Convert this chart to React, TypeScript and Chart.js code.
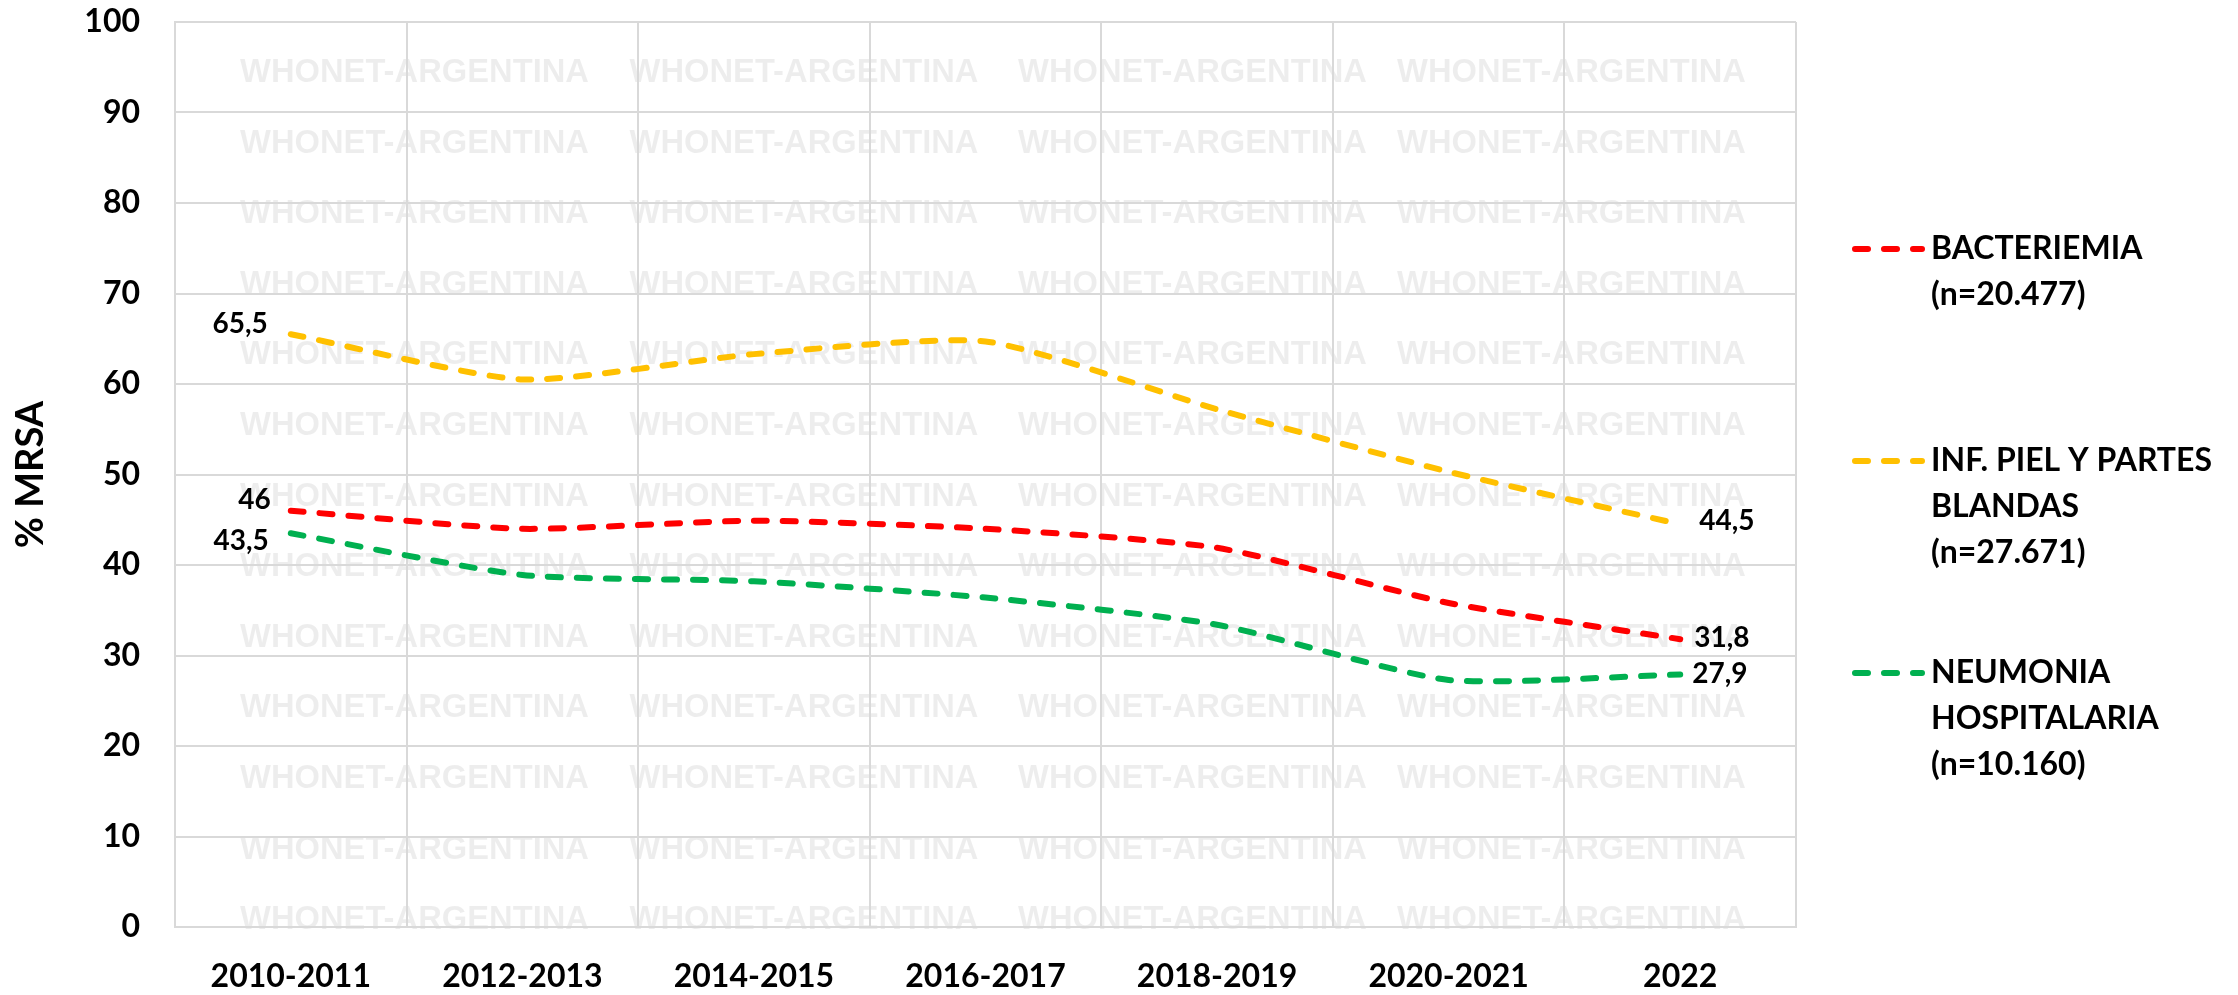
import React, { useEffect, useRef } from "react";
import { Chart, registerables } from "chart.js";

Chart.register(...registerables);

// ---------- data ----------
const categories = ["2010-2011", "2012-2013", "2014-2015", "2016-2017", "2018-2019", "2020-2021", "2022"];
const bacteriemia = [46, 44.0, 44.9, 44.0, 41.9, 35.8, 31.8];
const pielPartesBlandas = [65.5, 60.5, 63.3, 64.7, 57.2, 50.3, 44.5];
const neumoniaHospitalaria = [43.5, 38.9, 38.2, 36.4, 33.4, 27.3, 27.9];
const seriesLegendLines = [
  ["BACTERIEMIA", "(n=20.477)"],
  ["INF. PIEL Y PARTES", "BLANDAS", "(n=27.671)"],
  ["NEUMONIA", "HOSPITALARIA", "(n=10.160)"],
];
const seriesColors = ["#FF0000", "#FFC000", "#00B050"];
const yMin = 0;
const yMax = 100;
const yStep = 10;
const yAxisTitle = "% MRSA";
const watermarkText = "WHONET-ARGENTINA";

const FONT = "Lato";
const DASH = [13, 16];
const LINE_W = 6;

const fmt = (v: number) => String(v).replace(".", ",");

const watermarkPlugin = {
  id: "watermark",
  beforeDraw(chart: any) {
    const ctx = chart.ctx;
    ctx.save();
    ctx.font = 'bold 33px "Liberation Sans"';
    ctx.fillStyle = "rgba(0,0,0,0.07)";
    ctx.textBaseline = "middle";
    ctx.textAlign = "left";
    const cols = [240, 629.5, 1018, 1397];
    for (let r = 0; r < 13; r++) {
      const y = 73 + r * 70.6;
      for (const x of cols) ctx.fillText(watermarkText, x, y, 349);
    }
    ctx.restore();
  },
};

const endLabelsPlugin = {
  id: "endLabels",
  afterDatasetsDraw(chart: any) {
    const ctx = chart.ctx;
    const firstDx = [-20, -23, -22];
    const firstDy = [-11, -10, 8];
    const lastDx = [14, 19, 12];
    const lastDy = [-1, -3, -1];
    ctx.save();
    ctx.font = `bold 28px ${FONT}`;
    ctx.fillStyle = "#000";
    ctx.textBaseline = "middle";
    chart.data.datasets.forEach((ds: any, i: number) => {
      const meta = chart.getDatasetMeta(i);
      const n = meta.data.length;
      const p0 = meta.data[0];
      const p1 = meta.data[n - 1];
      ctx.textAlign = "right";
      ctx.fillText(fmt(ds.data[0]), p0.x + firstDx[i], p0.y + firstDy[i]);
      ctx.textAlign = "left";
      ctx.fillText(fmt(ds.data[n - 1]), p1.x + lastDx[i], p1.y + lastDy[i]);
    });
    ctx.restore();
  },
};

const legendPlugin = {
  id: "customLegend",
  afterDraw(chart: any) {
    const ctx = chart.ctx;
    const x0 = 1852;
    const x1 = 1925;
    const tx = 1931;
    const y0 = 249;
    const step = 212;
    const lh = 46;
    ctx.save();
    chart.data.datasets.forEach((ds: any, i: number) => {
      const y = y0 + i * step;
      ctx.beginPath();
      ctx.setLineDash(DASH);
      ctx.lineCap = "round";
      ctx.lineWidth = LINE_W;
      ctx.strokeStyle = ds.borderColor;
      ctx.moveTo(x0 + LINE_W / 2, y);
      ctx.lineTo(x1 - LINE_W / 2, y);
      ctx.stroke();
      ctx.setLineDash([]);
      ctx.font = `bold 32px ${FONT}`;
      ctx.fillStyle = "#000";
      ctx.textAlign = "left";
      ctx.textBaseline = "middle";
      seriesLegendLines[i].forEach((line, k) => {
        ctx.fillText(line, tx, y + k * lh);
      });
    });
    ctx.restore();
  },
};

export default function App() {
  const ref = useRef<HTMLCanvasElement | null>(null);

  useEffect(() => {
    let chart: Chart | null = null;
    let cancelled = false;
    const make = () => {
      if (cancelled || !ref.current) return;
      const mk = (label: string, data: number[], color: string) => ({
        label,
        data,
        borderColor: color,
        backgroundColor: color,
        borderWidth: LINE_W,
        borderDash: DASH,
        borderCapStyle: "round" as const,
        pointRadius: 0,
        tension: 0.2,
        fill: false,
      });
      chart = new Chart(ref.current, {
        type: "line",
        data: {
          labels: categories,
          datasets: [
            mk(seriesLegendLines[0].join(" "), bacteriemia, seriesColors[0]),
            mk(seriesLegendLines[1].join(" "), pielPartesBlandas, seriesColors[1]),
            mk(seriesLegendLines[2].join(" "), neumoniaHospitalaria, seriesColors[2]),
          ],
        },
        options: {
          animation: false,
          responsive: false,
          devicePixelRatio: 1,
          layout: { padding: { top: 22, right: 442, left: 0, bottom: 0 } },
          plugins: {
            legend: { display: false },
            title: { display: false },
            tooltip: { enabled: false },
          },
          scales: {
            x: {
              offset: true,
              grid: { offset: true, color: "#d9d9d9", lineWidth: 2, drawTicks: false },
              border: { display: true, color: "#d9d9d9", width: 2 },
              ticks: {
                color: "#000",
                font: { family: FONT, size: 32, weight: "bold" },
                padding: 30,
                maxRotation: 0,
                autoSkip: false,
              },
              afterFit: (s: any) => {
                s.height = 68;
                s.paddingLeft = 0;
                s.paddingRight = 0;
              },
            },
            y: {
              min: yMin,
              max: yMax,
              grid: { color: "#d9d9d9", lineWidth: 2, drawTicks: false },
              border: { display: true, color: "#d9d9d9", width: 2 },
              ticks: {
                stepSize: yStep,
                color: "#000",
                font: { family: FONT, size: 32, weight: "bold" },
                padding: 35,
              },
              title: {
                display: true,
                text: yAxisTitle,
                color: "#000",
                font: { family: FONT, size: 38, weight: "bold" },
                padding: { top: 8, bottom: 0 },
              },
              afterFit: (s: any) => {
                s.width = 175;
                s.paddingTop = 0;
                s.paddingBottom = 0;
              },
            },
          },
        },
        plugins: [watermarkPlugin, endLabelsPlugin, legendPlugin],
      });
    };
    const fontsReady = (document as any).fonts
      ? Promise.all([
          (document as any).fonts.load(`bold 32px ${FONT}`),
          (document as any).fonts.load('bold 33px "Liberation Sans"'),
        ]).catch(() => null)
      : Promise.resolve(null);
    fontsReady.then(make);
    return () => {
      cancelled = true;
      if (chart) chart.destroy();
    };
  }, []);

  return (
    <div style={{ position: "fixed", left: 0, top: 0, width: 2238, height: 995, background: "#fff" }}>
      <canvas ref={ref} width={2238} height={995} style={{ display: "block" }} />
    </div>
  );
}
